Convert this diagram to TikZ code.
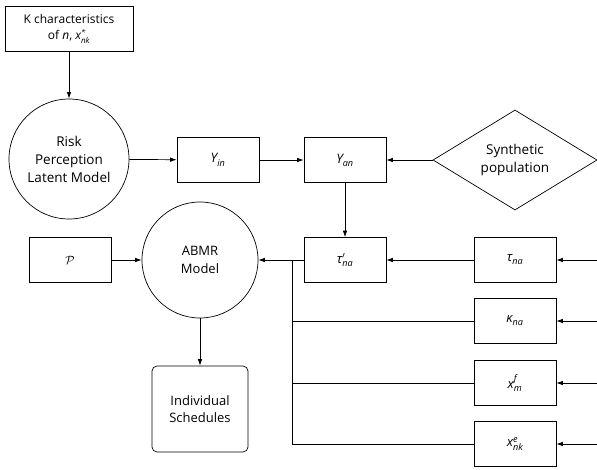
\documentclass[tikz,border=0pt]{standalone}
\usepackage{amsmath}
\usepackage{fontspec}
\setmainfont{Open Sans}
\usetikzlibrary{arrows.meta,shapes.geometric}

% italic symbol with text-font sub/superscripts
\newcommand{\sym}[3]{{\itshape #1$^{\text{#2}}_{\text{#3}}$}}

\begin{document}
\begin{tikzpicture}[x=1pt,y=-1pt,
  font=\fontsize{13}{17.5}\selectfont,
  box/.style={draw, line width=0.7pt, minimum width=82pt, minimum height=45pt,
              inner sep=1pt, align=center},
  roundbox/.style={box, rounded corners=5pt, minimum width=96pt, minimum height=86pt},
  circ/.style={draw, circle, line width=0.7pt, inner sep=0pt, align=center},
  gem/.style={draw, diamond, line width=0.7pt, inner sep=0pt, align=center,
              minimum width=164pt, minimum height=84pt},
  conn/.style={line width=0.7pt, -{Latex[length=6.5pt,width=4.5pt]}},
  wire/.style={line width=0.7pt}]
\useasboundingbox (0,0) rectangle (597,469);

% inputs and latent model
\node[box, minimum width=128pt, font=\fontsize{12}{16}\selectfont] (kchar) at (69,29)
  {K characteristics\\of \textit{n}, \sym{x}{*}{nk}};
\node[circ, minimum size=120pt, font=\fontsize{13.5}{18}\selectfont] (risk) at (69,159)
  {Risk\\Perception\\Latent Model};
\node[box] (yin) at (218,160) {\sym{Y}{}{in}};
\node[box] (yan) at (345,160) {\sym{Y}{}{an}};
\node[gem, font=\fontsize{13.5}{18}\selectfont] (synth) at (515,160) {Synthetic\\population};

% ABMR model and its parameters
\node[circ, minimum size=116pt] (abmr) at (200,260) {ABMR\\Model};
\node[box] (pset) at (70,260) {$\mathcal{P}$};
\node[roundbox] (sched) at (200,409) {Individual\\Schedules};
\node[box] (taup) at (345,260) {{\itshape τ}$'_{\text{\itshape na}}$};
\node[box] (tau) at (515,260) {\sym{τ}{}{na}};
\node[box] (kappa) at (515,321) {\sym{κ}{}{na}};
\node[box] (xf) at (515,383) {\sym{x}{f}{m}};
\node[box] (xe) at (515,444) {\sym{x}{e}{nk}};

% free ends on the right border and the collecting bus
\coordinate (rtau) at (597,260);
\coordinate (rkappa) at (597,321);
\coordinate (rxf) at (597,383);
\coordinate (rxe) at (597,444);
\coordinate (bus) at (292,260);

% connectors
\draw[conn] (kchar) -- (risk);
\draw[conn] (risk) -- (yin);
\draw[conn] (yin) -- (yan);
\draw[conn] (synth) -- (yan);
\draw[conn] (yan) -- (taup);
\draw[conn] (tau) -- (taup);
\draw[conn] (taup) -- (abmr);
\draw[conn] (pset) -- (abmr);
\draw[conn] (abmr) -- (sched);
\draw[conn] (rtau) -- (tau);
\draw[conn] (rkappa) -- (kappa);
\draw[conn] (rxf) -- (xf);
\draw[conn] (rxe) -- (xe);
\draw[wire] (bus) -- (bus |- xe);
\draw[wire] (kappa) -- (kappa -| bus);
\draw[wire] (xf) -- (xf -| bus);
\draw[wire] (xe) -- (xe -| bus);
\end{tikzpicture}
\end{document}
